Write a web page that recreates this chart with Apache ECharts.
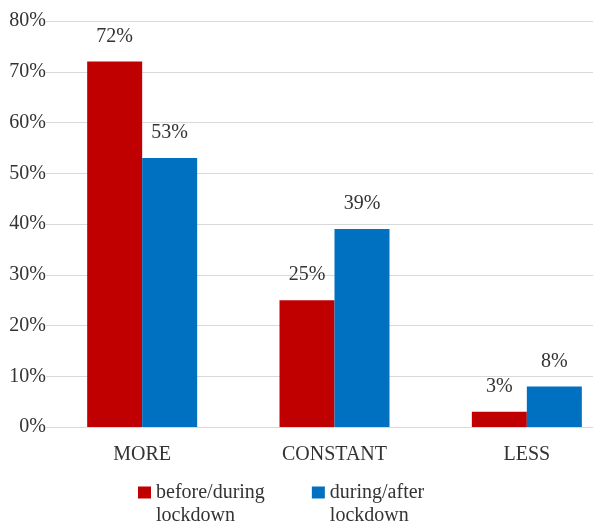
<!DOCTYPE html>
<html>
<head>
<meta charset="utf-8">
<script src="https://cdn.jsdelivr.net/npm/echarts@6/dist/echarts.min.js"></script>
<style>
  html, body { margin: 0; padding: 0; background: #fff; }
  #chart { width: 593px; height: 525px; }
</style>
</head>
<body>
<div id="chart"></div>
<script>
// categories on the x axis
const categories = ['MORE', 'CONSTANT', 'LESS']
// series values (percent)
const beforeDuring = [72, 25, 3]
const duringAfter = [53, 39, 8]
const seriesNames = ['before/during\nlockdown', 'during/after\nlockdown']

const font = 'Liberation Serif, Times New Roman, serif'
const textColor = '#333'

const labelOption = {
  show: true,
  position: 'top',
  distance: 15,
  formatter: '{c}%',
  fontFamily: font,
  fontSize: 20,
  color: textColor
}

const myChart = echarts.init(document.getElementById('chart'))
const option = {
  animation: false,
  grid: {
    left: 46,
    width: 577,
    top: 21,
    height: 406,
    outerBoundsMode: 'none'
  },
  legend: {
    left: 133,
    top: 453,
    itemWidth: 13,
    itemHeight: 12,
    itemGap: 47,
    icon: 'rect',
    // leading empty line keeps the first text line level with the icon
    formatter: function (name) {
      return '\n' + name
    },
    textStyle: {
      fontFamily: font,
      fontSize: 20,
      lineHeight: 23,
      color: textColor
    },
    data: seriesNames
  },
  xAxis: {
    type: 'category',
    data: categories,
    axisTick: { show: false },
    axisLine: { lineStyle: { color: '#d9d9d9', width: 1 } },
    axisLabel: {
      margin: 18,
      fontFamily: font,
      fontSize: 20,
      color: textColor
    }
  },
  yAxis: {
    type: 'value',
    min: 0,
    max: 80,
    interval: 10,
    axisLine: { show: false },
    axisTick: { show: false },
    splitLine: { lineStyle: { color: '#d9d9d9', width: 1 } },
    axisLabel: {
      margin: 0,
      formatter: '{value}%',
      fontFamily: font,
      fontSize: 20,
      color: textColor
    }
  },
  series: [
    {
      name: seriesNames[0],
      type: 'bar',
      barWidth: 55,
      barGap: 0,
      itemStyle: { color: '#c00000' },
      label: labelOption,
      data: beforeDuring
    },
    {
      name: seriesNames[1],
      type: 'bar',
      barWidth: 55,
      barGap: 0,
      itemStyle: { color: '#0070c0' },
      label: labelOption,
      data: duringAfter
    }
  ]
}
myChart.setOption(option)
</script>
</body>
</html>
